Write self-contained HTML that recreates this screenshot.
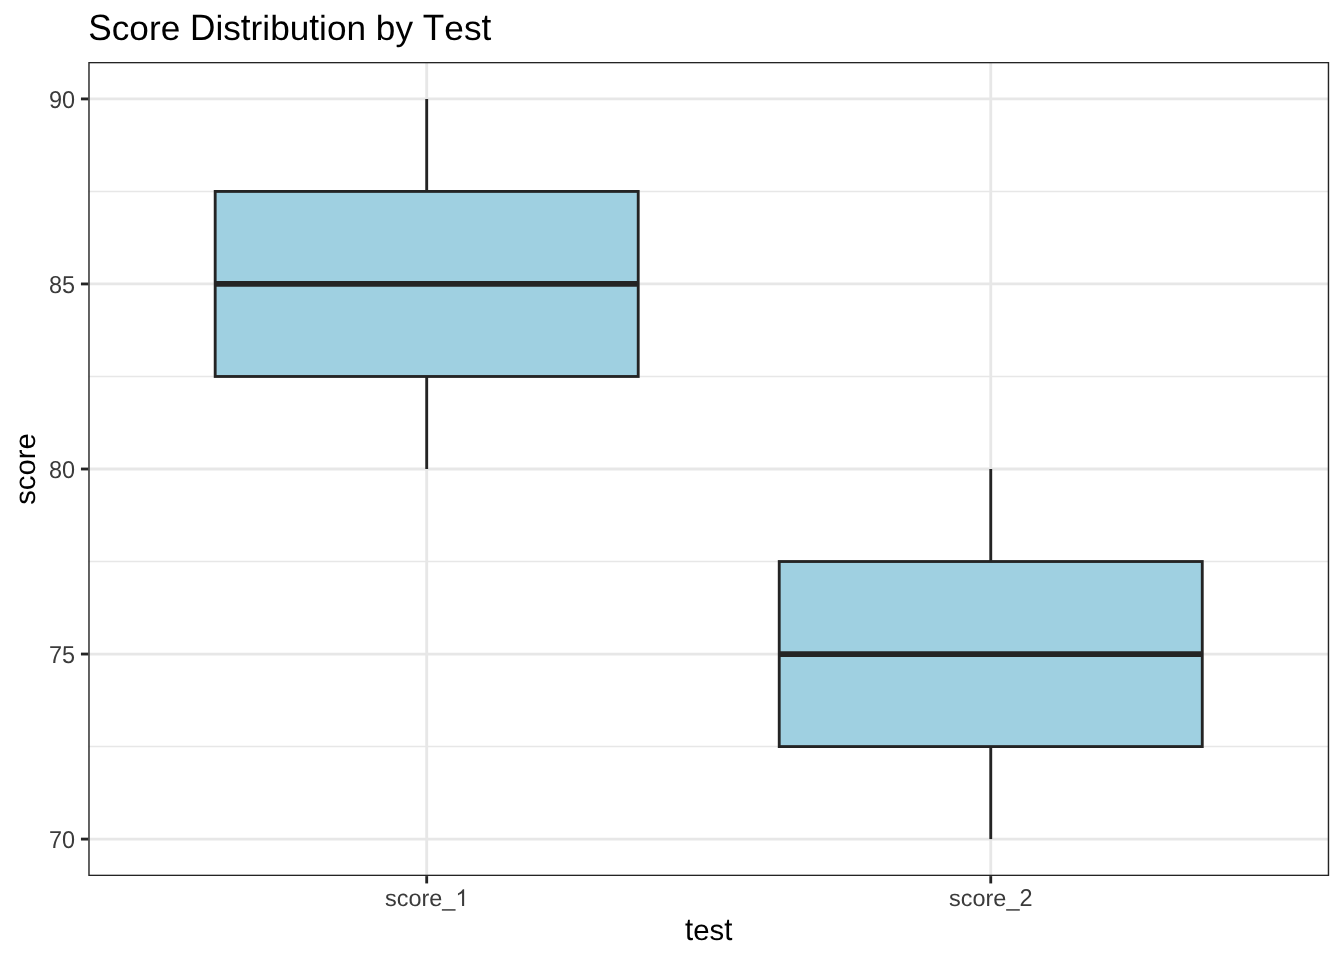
<!DOCTYPE html><html><head><meta charset="utf-8"><style>html,body{margin:0;padding:0;background:#fff;overflow:hidden;}svg{display:block;will-change:transform;}text{font-family:"Liberation Sans",sans-serif;font-kerning:none;font-feature-settings:"kern" 0;text-rendering:geometricPrecision;}</style></head><body>
<svg width="1344" height="960" viewBox="0 0 1344 960">
<rect x="0" y="0" width="1344" height="960" fill="#ffffff"/>
<clipPath id="pc"><rect x="88.27" y="61.9" width="1240.91" height="814.20"/></clipPath>
<g clip-path="url(#pc)">
<line x1="88.27" x2="1329.18" y1="191.43" y2="191.43" stroke="#E7E7E7" stroke-width="1.4225"/>
<line x1="88.27" x2="1329.18" y1="376.48" y2="376.48" stroke="#E7E7E7" stroke-width="1.4225"/>
<line x1="88.27" x2="1329.18" y1="561.52" y2="561.52" stroke="#E7E7E7" stroke-width="1.4225"/>
<line x1="88.27" x2="1329.18" y1="746.57" y2="746.57" stroke="#E7E7E7" stroke-width="1.4225"/>
<line x1="88.27" x2="1329.18" y1="98.91" y2="98.91" stroke="#E7E7E7" stroke-width="2.845"/>
<line x1="88.27" x2="1329.18" y1="283.95" y2="283.95" stroke="#E7E7E7" stroke-width="2.845"/>
<line x1="88.27" x2="1329.18" y1="469.00" y2="469.00" stroke="#E7E7E7" stroke-width="2.845"/>
<line x1="88.27" x2="1329.18" y1="654.05" y2="654.05" stroke="#E7E7E7" stroke-width="2.845"/>
<line x1="88.27" x2="1329.18" y1="839.09" y2="839.09" stroke="#E7E7E7" stroke-width="2.845"/>
<line x1="426.70" x2="426.70" y1="61.9" y2="876.1" stroke="#E7E7E7" stroke-width="2.845"/>
<line x1="990.75" x2="990.75" y1="61.9" y2="876.1" stroke="#E7E7E7" stroke-width="2.845"/>
<line x1="426.70" x2="426.70" y1="98.91" y2="191.43" stroke="#242424" stroke-width="2.845"/>
<line x1="426.70" x2="426.70" y1="376.48" y2="469.00" stroke="#242424" stroke-width="2.845"/>
<rect x="215.18" y="191.43" width="423.04" height="185.05" fill="#9FD0E1" stroke="#242424" stroke-width="2.845" stroke-linejoin="miter"/>
<line x1="215.18" x2="638.22" y1="283.95" y2="283.95" stroke="#242424" stroke-width="5.69"/>
<line x1="990.75" x2="990.75" y1="469.00" y2="561.52" stroke="#242424" stroke-width="2.845"/>
<line x1="990.75" x2="990.75" y1="746.57" y2="839.09" stroke="#242424" stroke-width="2.845"/>
<rect x="779.23" y="561.52" width="423.04" height="185.05" fill="#9FD0E1" stroke="#242424" stroke-width="2.845" stroke-linejoin="miter"/>
<line x1="779.23" x2="1202.27" y1="654.05" y2="654.05" stroke="#242424" stroke-width="5.69"/>
<rect x="88.27" y="61.9" width="1240.91" height="814.20" fill="none" stroke="#242424" stroke-width="2.845"/>
</g>
<line x1="80.94" x2="88.27" y1="98.91" y2="98.91" stroke="#242424" stroke-width="2.845"/>
<line x1="80.94" x2="88.27" y1="283.95" y2="283.95" stroke="#242424" stroke-width="2.845"/>
<line x1="80.94" x2="88.27" y1="469.00" y2="469.00" stroke="#242424" stroke-width="2.845"/>
<line x1="80.94" x2="88.27" y1="654.05" y2="654.05" stroke="#242424" stroke-width="2.845"/>
<line x1="80.94" x2="88.27" y1="839.09" y2="839.09" stroke="#242424" stroke-width="2.845"/>
<line x1="426.70" x2="426.70" y1="876.1" y2="883.43" stroke="#242424" stroke-width="2.845"/>
<line x1="990.75" x2="990.75" y1="876.1" y2="883.43" stroke="#242424" stroke-width="2.845"/>
<g>
<text transform="translate(48.964,107.609) scale(1,1.04)" font-size="23.47" fill="#3B3B3B" xml:space="preserve">90</text>
<text transform="translate(48.964,292.655) scale(1,1.04)" font-size="23.47" fill="#3B3B3B" xml:space="preserve">85</text>
<text transform="translate(48.964,477.700) scale(1,1.04)" font-size="23.47" fill="#3B3B3B" xml:space="preserve">80</text>
<text transform="translate(48.964,662.745) scale(1,1.04)" font-size="23.47" fill="#3B3B3B" xml:space="preserve">75</text>
<text transform="translate(48.964,847.791) scale(1,1.04)" font-size="23.47" fill="#3B3B3B" xml:space="preserve">70</text>
<text transform="translate(384.951,906.100) scale(1,0.981)" font-size="23.47" fill="#3B3B3B" xml:space="preserve">score</text>
<text transform="translate(442.343,906.100)" font-size="23.47" fill="#3B3B3B" xml:space="preserve">_</text>
<path transform="translate(455.396,906.100) scale(0.011460,-0.011460)" fill="#3B3B3B" d="M763 0H583V1147C540 1106 483 1065 413 1024C343 983 280 952 224 931V1105C325 1152 413 1210 489 1277C565 1345 618 1410 650 1472H763Z"/>
<text transform="translate(949.001,906.100) scale(1,0.981)" font-size="23.47" fill="#3B3B3B" xml:space="preserve">score</text>
<text transform="translate(1006.393,906.100)" font-size="23.47" fill="#3B3B3B" xml:space="preserve">_</text>
<text transform="translate(1019.446,906.100) scale(1,1.04)" font-size="23.47" fill="#3B3B3B" xml:space="preserve">2</text>
<text transform="translate(685.088,940.000) scale(1,1.07)" font-size="29.33" fill="#000" xml:space="preserve">t</text>
<text transform="translate(693.237,940.000) scale(1,0.981)" font-size="29.33" fill="#000" xml:space="preserve">es</text>
<text transform="translate(724.213,940.000) scale(1,1.07)" font-size="29.33" fill="#000" xml:space="preserve">t</text>
<text transform="translate(88.270,39.800) scale(1,1.04)" font-size="35.2" fill="#000" xml:space="preserve">S</text>
<text transform="translate(111.748,39.800) scale(1,0.981)" font-size="35.2" fill="#000" xml:space="preserve">core</text>
<text transform="translate(190.003,39.800) scale(1,1.04)" font-size="35.2" fill="#000" xml:space="preserve">D</text>
<text transform="translate(215.423,39.800) scale(1,0.988)" font-size="35.2" fill="#000" xml:space="preserve">i</text>
<text transform="translate(223.243,39.800) scale(1,0.981)" font-size="35.2" fill="#000" xml:space="preserve">s</text>
<text transform="translate(240.843,39.800) scale(1,1.07)" font-size="35.2" fill="#000" xml:space="preserve">t</text>
<text transform="translate(250.623,39.800) scale(1,0.981)" font-size="35.2" fill="#000" xml:space="preserve">r</text>
<text transform="translate(262.345,39.800) scale(1,0.988)" font-size="35.2" fill="#000" xml:space="preserve">ib</text>
<text transform="translate(289.742,39.800) scale(1,0.981)" font-size="35.2" fill="#000" xml:space="preserve">u</text>
<text transform="translate(309.318,39.800) scale(1,1.07)" font-size="35.2" fill="#000" xml:space="preserve">t</text>
<text transform="translate(319.098,39.800) scale(1,0.988)" font-size="35.2" fill="#000" xml:space="preserve">i</text>
<text transform="translate(326.918,39.800) scale(1,0.981)" font-size="35.2" fill="#000" xml:space="preserve">on</text>
<text transform="translate(375.851,39.800) scale(1,0.988)" font-size="35.2" fill="#000" xml:space="preserve">b</text>
<text transform="translate(395.428,39.800) scale(1,0.981)" font-size="35.2" fill="#000" xml:space="preserve">y</text>
<text transform="translate(422.808,39.800) scale(1,1.04)" font-size="35.2" fill="#000" xml:space="preserve">T</text>
<text transform="translate(444.309,39.800) scale(1,0.981)" font-size="35.2" fill="#000" xml:space="preserve">es</text>
<text transform="translate(481.486,39.800) scale(1,1.07)" font-size="35.2" fill="#000" xml:space="preserve">t</text>
</g>
<g transform="translate(35.28,469.00) rotate(-90)">
<text transform="translate(-35.861,0.000) scale(1,0.981)" font-size="29.33" fill="#000" xml:space="preserve">score</text>
</g>
</svg></body></html>
